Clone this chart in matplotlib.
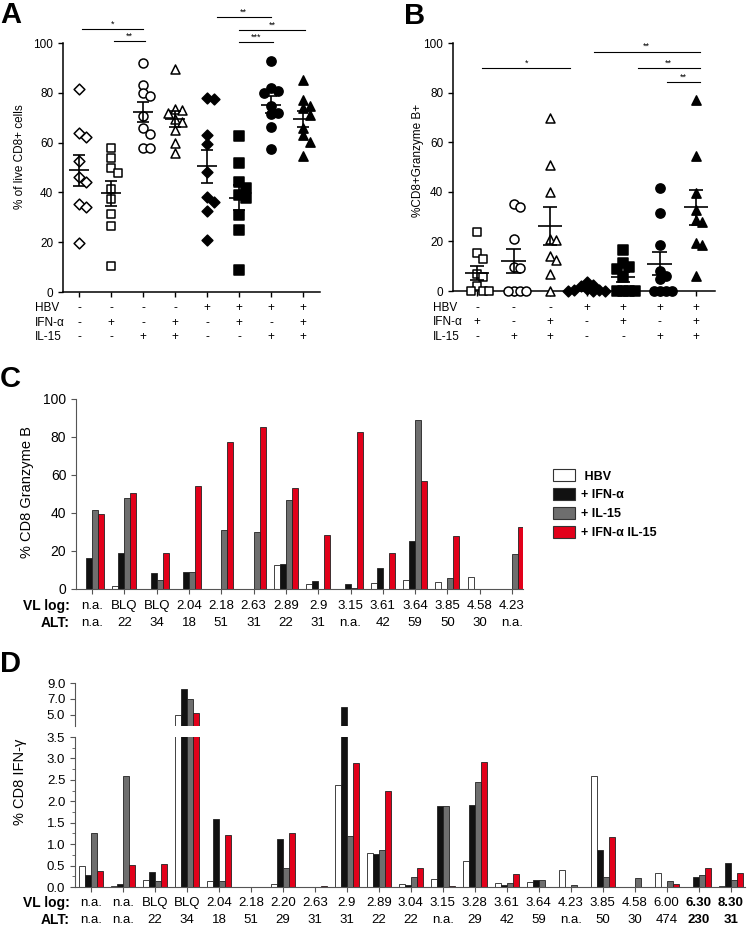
import numpy as np
import matplotlib
matplotlib.use("Agg")
import matplotlib.pyplot as plt
from matplotlib.transforms import blended_transform_factory
from matplotlib.patches import Patch

plt.rcParams['font.family'] = ['Liberation Sans', 'DejaVu Sans']

# ---------------- data ----------------
# panel A: % of live CD8+ cells
a_hbv = ['-', '-', '-', '-', '+', '+', '+', '+']
a_ifn = ['-', '+', '-', '+', '-', '+', '-', '+']
a_il15 = ['-', '-', '+', '+', '-', '-', '+', '+']
a_vals = [
    [81.5, 63.8, 62.4, 52.8, 46.3, 44.3, 35.3, 34.0, 19.5],
    [58.0, 53.8, 49.7, 47.7, 41.3, 37.2, 31.5, 26.6, 10.3],
    [91.9, 83.2, 80.1, 78.8, 70.5, 65.8, 63.5, 58.0, 58.0],
    [89.5, 73.4, 73.2, 72.0, 69.4, 68.1, 65.1, 59.7, 56.0],
    [77.9, 77.4, 63.1, 59.5, 48.3, 38.3, 36.2, 32.6, 20.8],
    [62.7, 51.7, 44.3, 41.6, 38.9, 37.6, 30.9, 25.1, 8.7],
    [92.6, 81.9, 80.9, 80.1, 74.5, 71.8, 71.4, 66.2, 57.4],
    [85.2, 77.2, 74.8, 73.8, 71.0, 66.0, 63.1, 60.4, 54.6],
]
a_sig = [(0.1, 2.0, 105.6, '*'), (1.1, 2.06, 100.8, '**'),
         (4.3, 6.0, 110.4, '**'), (5.0, 7.06, 105.2, '**'),
         (5.0, 6.06, 100.4, '***')]

# panel B: %CD8+Granzyme B+
b_hbv = ['-', '-', '-', '+', '+', '+', '+']
b_ifn = ['+', '-', '+', '-', '+', '-', '+']
b_il15 = ['-', '+', '+', '-', '-', '+', '+']
b_vals = [
    [23.9, 15.2, 12.8, 6.7, 5.8, 2.2, 0, 0, 0],
    [34.9, 34.0, 20.8, 9.8, 9.4, 0, 0, 0, 0],
    [69.8, 51.0, 40.0, 20.8, 20.5, 14.1, 12.5, 6.8, 0],
    [3.8, 2.5, 2.0, 1.0, 0.5, 0.3, 0, 0, 0],
    [16.5, 11.1, 9.8, 8.7, 5.8, 0, 0, 0, 0],
    [41.6, 31.5, 18.5, 8.0, 6.0, 4.7, 0, 0, 0, 0],
    [77.2, 54.4, 39.6, 32.6, 28.6, 27.9, 19.2, 18.5, 6.0],
]
b_sig = [(0.14, 2.56, 89.9, '*'), (3.2, 6.1, 96.4, '**'),
         (4.4, 6.1, 89.9, '**'), (5.2, 6.1, 84.3, '**')]

# panel C: % CD8 Granzyme B per patient
c_vl = ['n.a.', 'BLQ', 'BLQ', '2.04', '2.18', '2.63', '2.89', '2.9', '3.15',
        '3.61', '3.64', '3.85', '4.58', '4.23']
c_alt = ['n.a.', '22', '34', '18', '51', '31', '22', '31', 'n.a.',
         '42', '59', '50', '30', 'n.a.']
c_hbv = [0, 1.7, 0, 0, 0, 0, 12.6, 2.6, 0, 3.0, 4.7, 3.7, 6.1, 0]
c_ifn = [16.3, 19.0, 8.3, 8.8, 0, 0, 13.2, 4.2, 2.6, 10.9, 25.4, 0, 0, 0]
c_il15 = [41.6, 48.0, 4.7, 8.8, 31.3, 30.0, 46.9, 0, 0.7, 0, 89.2, 5.6, 0, 18.3]
c_combo = [39.5, 50.5, 18.7, 54.4, 77.3, 85.3, 53.1, 28.5, 82.8, 19.1, 57.0, 28.1, 0, 32.8]

# panel D: % CD8 IFN-gamma per patient
d_vl = ['n.a.', 'n.a.', 'BLQ', 'BLQ', '2.04', '2.18', '2.20', '2.63', '2.9',
        '2.89', '3.04', '3.15', '3.28', '3.61', '3.64', '4.23', '3.85',
        '4.58', '6.00', '6.30', '8.30']
d_alt = ['n.a.', 'n.a.', '22', '34', '18', '51', '29', '31', '31', '22', '22',
         'n.a.', '29', '42', '59', 'n.a.', '50', '30', '474', '230', '31']
d_bold = [False] * 19 + [True, True]
d_hbv = [0.48, 0.02, 0.17, 5.0, 0.13, 0.01, 0.08, 0, 2.38, 0.80, 0.08, 0.19,
         0.61, 0.09, 0.12, 0.40, 2.59, 0, 0.33, 0, 0.03]
d_ifn = [0.27, 0.06, 0.34, 8.3, 1.59, 0.01, 1.12, 0, 6.0, 0.78, 0.05, 1.88,
         1.91, 0.04, 0.17, 0, 0.86, 0, 0, 0.23, 0.55]
d_il15 = [1.25, 2.58, 0.13, 7.0, 0.14, 0.01, 0.44, 0, 1.18, 0.86, 0.23, 1.88,
          2.46, 0.09, 0.16, 0.04, 0.23, 0.22, 0.14, 0.27, 0.16]
d_combo = [0.37, 0.52, 0.53, 5.2, 1.21, 0.005, 1.27, 0.02, 2.89, 2.23, 0.45,
           0.02, 2.91, 0.30, 0, 0, 1.16, 0, 0.06, 0.45, 0.32]

series_names = [' HBV', '+ IFN-α', '+ IL-15', '+ IFN-α IL-15']
series_colors = ['white', '#111111', '#6e6e6e', '#e2001a']

# ---------------- layout helpers ----------------
W, H = 750, 926
fig = plt.figure(figsize=(W / 100, H / 100), dpi=100)


def rect(x0, y0, x1, y1):
    return [x0 / W, 1 - y1 / H, (x1 - x0) / W, (y1 - y0) / H]


def fy(py):
    return 1 - py / H


def swarm(vals, px_x, px_y, diam, step):
    offs = []
    placed = []
    for v in vals:
        for k in [0, 1, -1, 2, -2, 3, -3, 4, -4, 5, -5, 6, -6]:
            dx = k * step
            if all((dx - ox) ** 2 + ((v - ov) * px_y) ** 2 >= diam ** 2 for ox, ov in placed):
                break
        placed.append((dx, v))
        offs.append(dx / px_x)
    return np.array(offs)


def dot_panel(ax, vals_list, markers, filled, sizes, px_x, px_y, spread, half_mean, half_cap):
    for i, vals in enumerate(vals_list):
        vals = np.array(vals, dtype=float)
        off = swarm(vals, px_x, px_y, spread, spread)
        ax.scatter(i + off, vals, marker=markers[i], s=sizes[i],
                   facecolors='black' if filled[i] else 'white',
                   edgecolors='black', linewidths=1.1, clip_on=False, zorder=3)
        m = vals.mean()
        sem = vals.std(ddof=1) / np.sqrt(len(vals))
        ax.hlines(m, i - half_mean, i + half_mean, color='black', lw=1.2, zorder=4)
        ax.vlines(i, m - sem, m + sem, color='black', lw=1.2, zorder=4)
        ax.hlines([m - sem, m + sem], i - half_cap, i + half_cap, color='black', lw=1.2, zorder=4)
    for s in ['top', 'right']:
        ax.spines[s].set_visible(False)
    for s in ['left', 'bottom']:
        ax.spines[s].set_linewidth(1.1)
    ax.set_ylim(0, 100)
    ax.set_yticks(range(0, 101, 20))
    ax.set_xticks(range(len(vals_list)))
    ax.set_xticklabels([])
    ax.tick_params(labelsize=8.5, length=3.5, width=1.0)


def sig_bars(ax, sigs):
    for x0, x1, y, t in sigs:
        ax.plot([x0, x1], [y, y], color='black', lw=0.8, clip_on=False)
        ax.annotate(t, ((x0 + x1) / 2, y), xytext=(0, 0.5), textcoords='offset points',
                    ha='center', va='bottom', fontsize=6.5, annotation_clip=False)


def sign_rows(ax, rows, names, ys, xlabel):
    tr = blended_transform_factory(ax.transData, fig.transFigure)
    for row, name, y in zip(rows, names, ys):
        fig.text(xlabel / W, fy(y), name, ha='left', va='center', fontsize=8.5)
        for i, s in enumerate(row):
            ax.text(i, fy(y), s, transform=tr, ha='center', va='center', fontsize=8.5)


# ---------------- panel A ----------------
axA = fig.add_axes(rect(63, 43, 320, 292))
dot_panel(axA, a_vals, ['D', 's', 'o', '^', 'D', 's', 'o', '^'],
          [False] * 4 + [True] * 4, [30, 40, 42, 42, 30, 42, 44, 44],
          32.0, 2.49, 7.0, 0.31, 0.19)
axA.set_xlim(-0.5, 7.53)
sig_bars(axA, a_sig)
sign_rows(axA, [a_hbv, a_ifn, a_il15], ['HBV', 'IFN-α', 'IL-15'], [308, 323, 337], 35)
fig.text(20 / W, fy(157), '% of live CD8+ cells', rotation=90, ha='center', va='center', fontsize=8.5)

# ---------------- panel B ----------------
axB = fig.add_axes(rect(453, 43, 715, 291))
dot_panel(axB, b_vals, ['s', 'o', '^', 'D', 's', 'o', '^'],
          [False] * 3 + [True] * 4, [40, 42, 42, 30, 42, 44, 44],
          36.3, 2.48, 6.0, 0.34, 0.2)
axB.set_xlim(-0.66, 6.52)
sig_bars(axB, b_sig)
sign_rows(axB, [b_hbv, b_ifn, b_il15], ['HBV', 'IFN-α', 'IL-15'], [308, 322, 337], 433)
fig.text(418 / W, fy(160), '%CD8+Granzyme B+', rotation=90, ha='center', va='center', fontsize=8.5)


# ---------------- bar panels ----------------
def bar_groups(ax, series, w):
    x = np.arange(len(series[0]))
    for k, vals in enumerate(series):
        ax.bar(x + (k - 1.5) * w, vals, width=w, color=series_colors[k],
               edgecolor='#222222', linewidth=0.6, zorder=2)
    return x


def value_rows(ax, vl, alt, ys, bold=None):
    tr = blended_transform_factory(ax.transData, fig.transFigure)
    fig.text(70 / W, fy(ys[0]), 'VL log:', ha='right', va='center', fontsize=10, fontweight='bold')
    fig.text(70 / W, fy(ys[1]), 'ALT:', ha='right', va='center', fontsize=10, fontweight='bold')
    for i, (v, a) in enumerate(zip(vl, alt)):
        fw = 'bold' if (bold is not None and bold[i]) else 'normal'
        ax.text(i, fy(ys[0]), v, transform=tr, ha='center', va='center', fontsize=9.5, fontweight=fw)
        ax.text(i, fy(ys[1]), a, transform=tr, ha='center', va='center', fontsize=9.5, fontweight=fw)


# ---------------- panel C ----------------
axC = fig.add_axes(rect(76, 399, 523, 589))
xc = bar_groups(axC, [c_hbv, c_ifn, c_il15, c_combo], 0.186)
axC.set_xlim(-0.5, 13.34)
axC.set_ylim(0, 100)
axC.set_yticks(range(0, 101, 20))
axC.set_xticks(xc)
axC.set_xticklabels([])
for s in ['top', 'right']:
    axC.spines[s].set_visible(False)
axC.spines['left'].set_color('#555555')
axC.spines['bottom'].set_color('#555555')
axC.tick_params(labelsize=10, length=3.5, color='#555555')
value_rows(axC, c_vl, c_alt, [606, 623])
fig.text(27 / W, fy(492), '% CD8 Granzyme B', rotation=90, ha='center', va='center', fontsize=10.5)
handles = [Patch(facecolor=c, edgecolor='#333333', linewidth=0.8) for c in series_colors]
fig.legend(handles, series_names, loc='upper left', bbox_to_anchor=(542 / W, fy(458)),
           frameon=False, handlelength=1.7, handleheight=1.1, handletextpad=0.5,
           labelspacing=0.45, prop={'size': 9, 'weight': 'bold'})

# ---------------- panel D (broken axis) ----------------
d_series = [d_hbv, d_ifn, d_il15, d_combo]
axDt = fig.add_axes(rect(75, 683, 745, 726))
axD = fig.add_axes(rect(75, 737, 745, 887))
bar_groups(axDt, d_series, 0.1875)
xd = bar_groups(axD, d_series, 0.1875)
for ax in (axD, axDt):
    ax.set_xlim(-0.5, 20.45)
    ax.spines['top'].set_visible(False)
    ax.spines['right'].set_visible(False)
    ax.spines['left'].set_color('#555555')
    ax.spines['bottom'].set_color('#555555')
    ax.tick_params(labelsize=9.5, length=3.5, color='#555555')
axDt.spines['bottom'].set_visible(False)
axDt.set_ylim(3.6, 9.0)
axDt.set_yticks([5.0, 7.0, 9.0])
axDt.set_yticklabels(['5.0', '7.0', '9.0'])
axDt.set_xticks([])
axD.set_ylim(0, 3.5)
axD.set_yticks(np.arange(0, 3.51, 0.5))
axD.set_yticklabels(['%.1f' % t for t in np.arange(0, 3.51, 0.5)])
axD.set_yticks(np.arange(0.25, 3.5, 0.5), minor=True)
axD.tick_params(axis='y', which='minor', length=2, color='#555555')
axD.set_xticks(xd)
axD.set_xticklabels([])
value_rows(axD, d_vl, d_alt, [903, 920], d_bold)
fig.text(20 / W, fy(782), '% CD8 IFN-γ', rotation=90, ha='center', va='center', fontsize=10.5)

# ---------------- panel letters ----------------
for x, y, t in [(0, 1, 'A'), (404, 2, 'B'), (0, 365, 'C'), (0, 650, 'D')]:
    fig.text(x / W, fy(y), t, ha='left', va='top', fontsize=21, fontweight='bold')

fig.savefig('out.png', dpi=100)
